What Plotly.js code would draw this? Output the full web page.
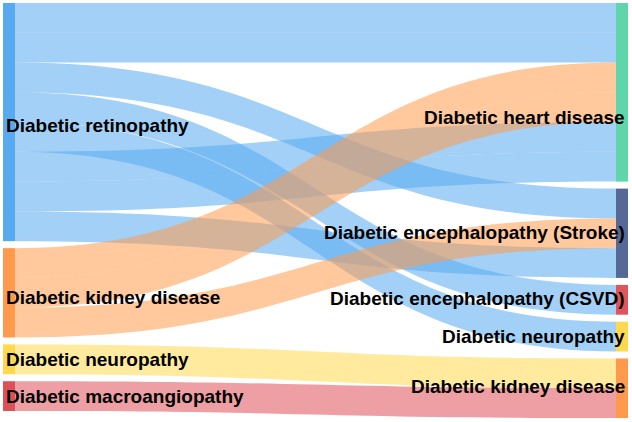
<!DOCTYPE html>
<html>
<head>
<meta charset="utf-8">
<script src="https://cdn.plot.ly/plotly-3.0.1.min.js"></script>
<style>
  html, body { margin: 0; padding: 0; background: #ffffff; }
  #chart { width: 632px; height: 422px; }
</style>
</head>
<body>
<div id="chart"></div>
<script>
// ---------------- data ----------------
const leftLabels = [
  'Diabetic retinopathy',
  'Diabetic kidney disease',
  'Diabetic neuropathy',
  'Diabetic macroangiopathy'
];
const rightLabels = [
  'Diabetic heart disease',
  'Diabetic encephalopathy (Stroke)',
  'Diabetic encephalopathy (CSVD)',
  'Diabetic neuropathy',
  'Diabetic kidney disease'
];
// one entry per link (each link has value 1), listed in stacking order at the source
const linkSource = [0, 0, 0, 0, 0, 0, 0, 0, 1, 1, 1, 2, 3];
const linkTarget = [0, 0, 1, 2, 3, 0, 0, 1, 0, 0, 1, 4, 4];
const linkValue  = [1, 1, 1, 1, 1, 1, 1, 1, 1, 1, 1, 1, 1];
// stacking order of links (by link index) at each right-hand node, top to bottom
const targetStackOrder = [[0, 1, 8, 9, 5, 6], [2, 10, 7], [3], [4], [11, 12]];

// ---------------- style ----------------
const leftColors  = ['#58AAF0', '#FF9A4D', '#FFD84D', '#DE5058'];
const rightColors = ['#5ED6A9', '#566996', '#E0555A', '#FFD84D', '#FF9A4D'];
const LINK_ALPHA = 0.55;
const W = 632, H = 422;
const M = { l: 3, r: 4, t: 3, b: 4 };
const THICK = 12, GAP = 7;
const FONT = { family: 'Liberation Sans, Arial, sans-serif', size: 19, color: '#000000' };
// label nudges in px (positive = down)
const leftLabelNudge = [3, 5, 0, 0];
const rightLabelNudge = [25, -1, -1, 0, -2];

// ---------------- layout computations ----------------
const plotW = W - M.l - M.r, plotH = H - M.t - M.b;
const sum = a => a.reduce((s, v) => s + v, 0);
const leftTotals = leftLabels.map((_, i) => sum(linkValue.filter((v, k) => linkSource[k] === i)));
const rightTotals = rightLabels.map((_, j) => sum(linkValue.filter((v, k) => linkTarget[k] === j)));
const ky = Math.min(
  (plotH - (leftTotals.length - 1) * GAP) / sum(leftTotals),
  (plotH - (rightTotals.length - 1) * GAP) / sum(rightTotals)
);
function stackTops(totals) {
  let y = 0;
  return totals.map(t => { const top = y; y += t * ky + GAP; return top; });
}
const leftTops = stackTops(leftTotals);
const rightTops = stackTops(rightTotals);
const leftCenters = leftTops.map((t, i) => t + leftTotals[i] * ky / 2);
const rightCenters = rightTops.map((t, j) => t + rightTotals[j] * ky / 2);
const xL = (THICK / 2) / plotW, xR = 1 - (THICK / 2) / plotW;

function rgba(hex, a) {
  const n = parseInt(hex.slice(1), 16);
  return 'rgba(' + (n >> 16 & 255) + ',' + (n >> 8 & 255) + ',' + (n & 255) + ',' + a + ')';
}

// ---- trace of link bands (one invisible sub-node per link end) ----
const nL = linkValue.length;
const bx = [], by = [];
const srcOff = leftLabels.map(() => 0);
for (let k = 0; k < nL; k++) {
  const s = linkSource[k];
  const h = linkValue[k] * ky;
  by.push((leftTops[s] + srcOff[s] + h / 2) / plotH);
  bx.push(xL);
  srcOff[s] += h;
}
const tgtY = new Array(nL);
targetStackOrder.forEach((order, j) => {
  let off = 0;
  order.forEach(k => {
    const h = linkValue[k] * ky;
    tgtY[k] = (rightTops[j] + off + h / 2) / plotH;
    off += h;
  });
});
for (let k = 0; k < nL; k++) { bx.push(xR); by.push(tgtY[k]); }
const padB = Math.min(
  (plotH - sum(leftTotals) * ky) / (nL - 1),
  (plotH - sum(rightTotals) * ky) / (nL - 1)
);

const bandTrace = {
  type: 'sankey',
  arrangement: 'fixed',
  domain: { x: [0, 1], y: [0, 1] },
  hoverinfo: 'none',
  node: {
    label: new Array(2 * nL).fill(''),
    x: bx, y: by,
    pad: padB, thickness: THICK,
    color: new Array(2 * nL).fill('rgba(0,0,0,0)'),
    line: { width: 0 }
  },
  link: {
    source: linkSource.map((s, k) => k),
    target: linkSource.map((s, k) => nL + k),
    value: linkValue,
    color: linkSource.map(s => rgba(leftColors[s], LINK_ALPHA)),
    line: { width: 0 }
  }
};

// ---- trace of the nodes themselves ----
const nodeTrace = {
  type: 'sankey',
  arrangement: 'fixed',
  domain: { x: [0, 1], y: [0, 1] },
  hoverinfo: 'none',
  node: {
    label: leftLabels.map(() => '').concat(rightLabels.map(() => '')),
    x: leftLabels.map(() => xL).concat(rightLabels.map(() => xR)),
    y: leftCenters.map(c => c / plotH).concat(rightCenters.map(c => c / plotH)),
    pad: GAP, thickness: THICK,
    color: leftColors.concat(rightColors),
    line: { width: 0 }
  },
  link: {
    source: linkSource,
    target: linkTarget.map(t => t + leftLabels.length),
    value: linkValue,
    color: 'rgba(0,0,0,0)',
    line: { width: 0 }
  }
};

const annotations = [];
leftLabels.forEach((lab, i) => annotations.push({
  xref: 'paper', yref: 'paper', x: 3 / plotW, y: 1 - leftCenters[i] / plotH,
  xanchor: 'left', yanchor: 'middle', showarrow: false, yshift: -leftLabelNudge[i],
  text: '<b>' + lab + '</b>', font: FONT, borderpad: 0, borderwidth: 0
}));
rightLabels.forEach((lab, j) => annotations.push({
  xref: 'paper', yref: 'paper', x: (plotW - 3) / plotW, y: 1 - rightCenters[j] / plotH,
  xanchor: 'right', yanchor: 'middle', showarrow: false, yshift: -rightLabelNudge[j],
  text: '<b>' + lab + '</b>', font: FONT, borderpad: 0, borderwidth: 0
}));

Plotly.newPlot('chart', [bandTrace, nodeTrace], {
  width: W, height: H,
  margin: M,
  paper_bgcolor: '#ffffff',
  plot_bgcolor: '#ffffff',
  font: FONT,
  showlegend: false,
  annotations: annotations
}, { displayModeBar: false, staticPlot: true });
</script>
</body>
</html>
